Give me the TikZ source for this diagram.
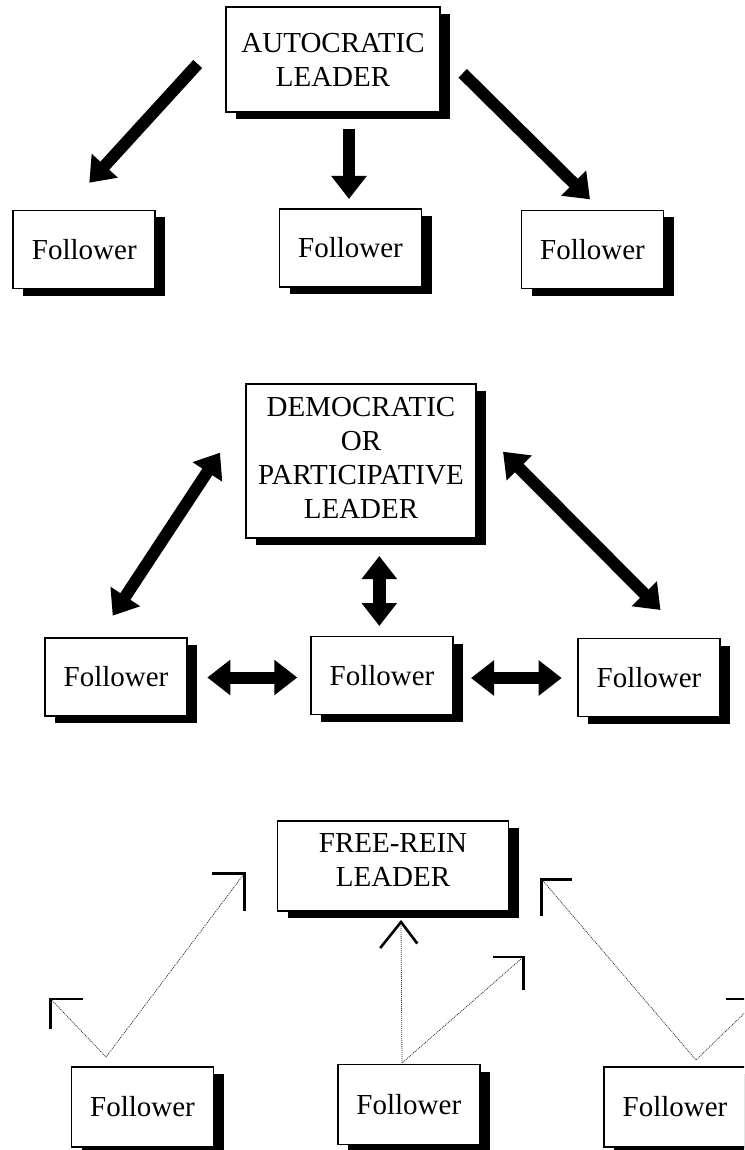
\documentclass[tikz,border=0pt]{standalone}
\usepackage{fontspec}
\setmainfont{Liberation Serif}
\usetikzlibrary{arrows.meta,shadows}

\tikzset{
  box/.style={draw, line width=1.8pt, fill=white, inner sep=0pt,
    align=center, font=\fontsize{29}{34}\selectfont,
    drop shadow={shadow xshift=10pt, shadow yshift=-7pt, fill=black, opacity=1}},
  follower/.style={box, minimum width=142pt, minimum height=78pt},
  big tip/.style={},
  thick arrow/.style={line width=12pt, -{Triangle[length=23pt,width=34pt]}},
  both arrow/.style={line width=12pt, {Triangle[length=23pt,width=34pt]}-{Triangle[length=23pt,width=34pt]}},
  loose line/.style={line width=0.8pt, black!80, dash pattern=on 1pt off 1pt},
  head leg/.style={line width=2.6pt, line cap=rect, line join=miter}
}

\begin{document}
\begin{tikzpicture}[x=1pt, y=-1pt]
\useasboundingbox (0,0) rectangle (744,1150);
\clip (0,0) rectangle (744,1150);

% ---------- autocratic leadership ----------
\node[box, minimum width=214pt, minimum height=105pt] (auto) at (333,59.5) {AUTOCRATIC\\LEADER};
\node[follower] (autoA) at (84.3,249.5) {Follower};
\node[follower] (autoB) at (350.5,248) {Follower};
\node[follower] (autoC) at (592.5,249.5) {Follower};

\coordinate (autoLs) at (197.7,64);   \coordinate (autoLe) at (89.3,182.7);
\coordinate (autoMs) at (349,129);    \coordinate (autoMe) at (349,199);
\coordinate (autoRs) at (462.7,73.3); \coordinate (autoRe) at (590,199.3);
\draw[thick arrow] (autoLs) -- (autoLe);
\draw[thick arrow] (autoMs) -- (autoMe);
\draw[thick arrow] (autoRs) -- (autoRe);

% ---------- democratic / participative leadership ----------
\node[box, minimum width=230pt, minimum height=154pt, text depth=6pt] (demo) at (361,461) {DEMOCRATIC\\OR\\PARTICIPATIVE\\LEADER};
\node[follower] (demoA) at (116,677) {Follower};
\node[follower] (demoB) at (382,675.5) {Follower};
\node[follower] (demoC) at (649,677.5) {Follower};

\coordinate (demoLs) at (220,452.7);   \coordinate (demoLe) at (112.7,615.7);
\coordinate (demoMs) at (379.3,556);   \coordinate (demoMe) at (379.3,626);
\coordinate (demoRs) at (503,451.7);   \coordinate (demoRe) at (660.5,610);
\coordinate (demoABs) at (207.3,677.5); \coordinate (demoABe) at (297.3,677.5);
\coordinate (demoBCs) at (471,678);     \coordinate (demoBCe) at (561.7,678);
\draw[both arrow] (demoLs) -- (demoLe);
\draw[both arrow, line width=13pt] (demoMs) -- (demoMe);
\draw[both arrow] (demoRs) -- (demoRe);
\draw[both arrow] (demoABs) -- (demoABe);
\draw[both arrow] (demoBCs) -- (demoBCe);

% ---------- free-rein leadership ----------
\node[box, minimum width=231pt, minimum height=90pt, text depth=12pt] (free) at (393,866) {FREE-REIN\\LEADER};
\node[follower, minimum height=80pt] (freeA) at (142.5,1107) {Follower};
\node[follower, minimum height=80pt] (freeB) at (408.8,1104.5) {Follower};
\node[follower, minimum height=80pt] (freeC) at (675,1107) {Follower};

% starting points above the followers
\coordinate (freeAo) at (106,1057);
\coordinate (freeBo) at (402,1063);
\coordinate (freeCo) at (696,1060);
% open heads
\coordinate (freeAl) at (50.7,999);
\coordinate (freeAr) at (244.5,873.3);
\coordinate (freeBu) at (401,922);
\coordinate (freeBr) at (523.3,957);
\coordinate (freeCl) at (541.7,879.3);
\coordinate (freeCr) at (759,999);

\draw[loose line] (freeAl) -- (freeAo) -- (freeAr);
\draw[loose line] (freeBu) -- (freeBo) -- (freeBr);
\draw[loose line] (freeCl) -- (freeCo) -- (freeCr);

\draw[head leg] (freeAl) +(31,0) -- (freeAl) -- +(0,29);
\draw[head leg] (freeAr) +(-31.5,0) -- (freeAr) -- +(0,36);
\draw[head leg] (freeBu) +(-20,25) -- (freeBu) -- +(15.5,20.5);
\draw[head leg] (freeBr) +(-29,0) -- (freeBr) -- +(0,32);
\draw[head leg] (freeCl) +(29,0) -- (freeCl) -- +(0,35);
\draw[head leg] (freeCr) +(-32,0) -- (freeCr) -- +(0,29);
\end{tikzpicture}
\end{document}
